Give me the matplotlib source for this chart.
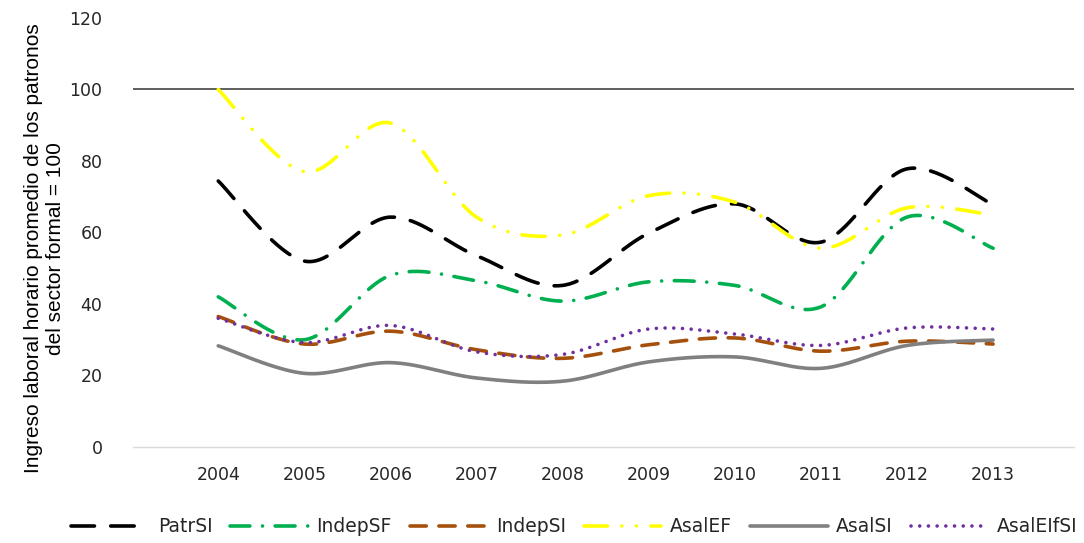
import matplotlib
matplotlib.use('Agg')
import matplotlib.pyplot as plt
import numpy as np

# data
years = [2004, 2005, 2006, 2007, 2008, 2009, 2010, 2011, 2012, 2013]
patr_si = [74.4, 52.0, 64.3, 53.5, 45.2, 59.8, 68.0, 57.3, 77.8, 67.8]
indep_sf = [42.0, 30.0, 48.0, 46.5, 40.8, 46.2, 45.2, 39.2, 64.3, 55.6]
indep_si = [36.5, 28.8, 32.4, 27.2, 24.8, 28.6, 30.5, 26.8, 29.6, 28.8]
asal_ef = [100.0, 77.0, 90.6, 64.3, 59.3, 70.3, 68.5, 55.6, 66.9, 64.9]
asal_si = [28.3, 20.6, 23.6, 19.3, 18.4, 23.8, 25.2, 22.0, 28.4, 29.9]
asal_eifsi = [36.0, 29.2, 34.0, 26.6, 25.9, 33.0, 31.6, 28.4, 33.3, 33.0]

labels = ['PatrSI', 'IndepSF', 'IndepSI', 'AsalEF', 'AsalSI', 'AsalEIfSI']
series = [patr_si, indep_sf, indep_si, asal_ef, asal_si, asal_eifsi]
colors = ['#000000', '#00b050', '#a5500c', '#ffff00', '#808080', '#7030a0']
dashes = [(0, (6.5, 4.5)),
          (0, (5.5, 3.5, 0.01, 3.5)),
          (0, (4.5, 3.5)),
          (0, (6.5, 4, 0.01, 4, 0.01, 4)),
          'solid',
          (0, (0.01, 2.4))]


def smooth(x, y, n=40):
    # Excel style smoothed line (Catmull-Rom as cubic Bezier)
    x = np.asarray(x, float)
    y = np.asarray(y, float)
    px = np.concatenate([[x[0]], x, [x[-1]]])
    py = np.concatenate([[y[0]], y, [y[-1]]])
    xs, ys = [], []
    t = np.linspace(0, 1, n)
    for i in range(1, len(px) - 2):
        p0 = np.array([px[i], py[i]])
        p3 = np.array([px[i + 1], py[i + 1]])
        p1 = p0 + (np.array([px[i + 1], py[i + 1]]) - np.array([px[i - 1], py[i - 1]])) / 6
        p2 = p3 - (np.array([px[i + 2], py[i + 2]]) - np.array([px[i], py[i]])) / 6
        b = ((1 - t) ** 3)[:, None] * p0 + (3 * (1 - t) ** 2 * t)[:, None] * p1 \
            + (3 * (1 - t) * t ** 2)[:, None] * p2 + (t ** 3)[:, None] * p3
        xs.extend(b[:, 0])
        ys.extend(b[:, 1])
    return xs, ys


fig = plt.figure(figsize=(10.84, 5.43), dpi=100)
ax = fig.add_axes([0.1227, 0.1768, 0.8681, 0.7901])

for k in range(len(series)):
    sx, sy = smooth(years, series[k])
    ax.plot(sx, sy, color=colors[k], linestyle=dashes[k], linewidth=2.6,
            dash_capstyle='round', solid_capstyle='round', label=labels[k])

ax.axhline(100, color='#333333', linewidth=1.1, zorder=0)

ax.set_xlim(2003.01, 2013.94)
ax.set_ylim(0, 120)
ax.set_xticks(years)
ax.set_xticklabels([str(y) for y in years], fontsize=12.5, color='#262626')
ax.set_yticks(np.arange(0, 121, 20))
ax.set_yticklabels([str(v) for v in range(0, 121, 20)], fontsize=12.5, color='#262626')
ax.tick_params(length=0, axis='y', pad=22)
ax.tick_params(length=0, axis='x', pad=14)

for s in ['top', 'right', 'left']:
    ax.spines[s].set_visible(False)
ax.spines['bottom'].set_color('#d9d9d9')
ax.spines['bottom'].set_linewidth(1.0)

fig.text(0.041, 0.543, 'Ingreso laboral horario promedio de los patronos\ndel sector formal = 100',
         rotation=90, ha='center', va='center', fontsize=15,
         family='Liberation Sans', color='#000000', linespacing=1.2)

fig.legend(loc='center', bbox_to_anchor=(0.53, 0.03), ncol=6, frameon=False,
           fontsize=13.5, handlelength=4.15, handletextpad=0.45, columnspacing=0.95,
           labelcolor='#262626')

plt.savefig('out.png', dpi=100)
